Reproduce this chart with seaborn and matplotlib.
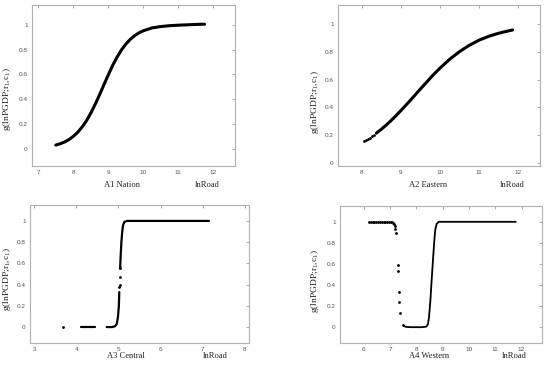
import numpy as np
import pandas as pd
import matplotlib
matplotlib.use("Agg")
import matplotlib.pyplot as plt
import seaborn as sns

# ---------------- data ----------------
# A1 Nation
a1_line_x = [7.50, 7.625, 7.75, 7.875, 8.00, 8.125, 8.25, 8.375, 8.50, 8.625, 8.75, 8.875, 9.00, 9.125,
             9.25, 9.375, 9.50, 9.625, 9.75, 9.875, 10.00, 10.25, 10.50, 10.75, 11.00, 11.25, 11.50, 11.75]
a1_line_y = [0.029, 0.040, 0.054, 0.073, 0.099, 0.132, 0.174, 0.225, 0.287, 0.358, 0.435, 0.516, 0.596, 0.672,
             0.739, 0.797, 0.844, 0.882, 0.912, 0.935, 0.952, 0.975, 0.986, 0.993, 0.997, 1.0, 1.003, 1.005]
a1_dot_x = []
a1_dot_y = []

# A2 Eastern
a2_line_x = [8.38, 8.50, 8.625, 8.75, 8.875, 9.00, 9.125, 9.25, 9.375, 9.50, 9.625, 9.75, 9.875, 10.00,
             10.25, 10.50, 10.75, 11.00, 11.25, 11.50, 11.75, 11.85]
a2_line_y = [0.213, 0.240, 0.270, 0.303, 0.338, 0.375, 0.413, 0.452, 0.492, 0.532, 0.571, 0.610, 0.648, 0.683,
             0.748, 0.803, 0.849, 0.886, 0.914, 0.936, 0.953, 0.959]
a2_dot_x = [8.07, 8.12, 8.17, 8.22, 8.27, 8.32]
a2_dot_y = [0.154, 0.162, 0.171, 0.181, 0.191, 0.201]

# A3 Central
a3_line_x = [4.12, 4.45,
             4.72, 4.85, 4.92, 4.96, 4.99, 5.01, 5.02,
             5.04, 5.05, 5.07, 5.09, 5.11, 5.14, 5.20, 7.15]
a3_line_y = [0.0, 0.0,
             0.0, 0.0, 0.008, 0.03, 0.10, 0.20, 0.33,
             0.55, 0.65, 0.80, 0.90, 0.96, 0.99, 1.0, 1.0]
a3_line_seg = [0, 0,
               1, 1, 1, 1, 1, 1, 1,
               2, 2, 2, 2, 2, 2, 2, 2]
a3_dot_x = [3.68, 5.022, 5.028, 5.032, 5.036]
a3_dot_y = [0.0, 0.38, 0.40, 0.47, 0.56]

# A4 Western
a4_line_x = [7.52, 7.60, 7.80, 8.20, 8.38, 8.44, 8.48, 8.53, 8.58, 8.62, 8.66, 8.69, 8.72, 8.77, 8.85, 11.78]
a4_line_y = [0.012, 0.003, 0.0, 0.0, 0.005, 0.03, 0.10, 0.25, 0.45, 0.60, 0.75, 0.85, 0.93, 0.98, 1.0, 1.0]
a4_dot_x = [6.20, 6.26, 6.33, 6.40, 6.47, 6.54, 6.61, 6.68, 6.75, 6.82, 6.89, 6.96, 7.02, 7.07, 7.11, 7.14, 7.17, 7.20, 7.22,
            7.28, 7.29, 7.32, 7.35, 7.37, 7.47]
a4_dot_y = [1.0, 1.0, 1.0, 1.0, 1.0, 1.0, 1.0, 1.0, 1.0, 1.0, 1.0, 1.0, 1.0, 0.998, 0.99, 0.98, 0.96, 0.93, 0.89,
            0.59, 0.53, 0.33, 0.24, 0.13, 0.025]

titles = ["A1 Nation", "A2 Eastern", "A3 Central", "A4 Western"]
x_ticks = [[7, 8, 9, 10, 11, 12], [8, 9, 10, 11, 12], [3, 4, 5, 6, 7, 8], [6, 7, 8, 9, 10, 11, 12]]
y_ticks = [0, 0.2, 0.4, 0.6, 0.8, 1]
y_tick_labels = ["0", "0.2", "0.4", "0.6", "0.8", "1"]
x_unit = "lnRoad"
y_label = r"g(lnPGDP;$r_1$,$c_1$)"

# ---------------- style ----------------
sns.set_theme(style="white")
plt.rcParams["font.family"] = ["Liberation Sans", "DejaVu Sans"]
plt.rcParams["mathtext.fontset"] = "custom"
plt.rcParams["mathtext.rm"] = "Liberation Serif"
plt.rcParams["mathtext.it"] = "Liberation Serif"

fig = plt.figure(figsize=(5.5, 3.65), dpi=100)
W, H = 550.0, 365.0

def px_axes(l, t, r, b):
    return fig.add_axes([l / W, 1 - b / H, (r - l) / W, (b - t) / H])

axes = [
    px_axes(32, 5, 235, 166),
    px_axes(338, 5, 540, 166),
    px_axes(30, 205, 249, 343),
    px_axes(340, 206, 542, 343),
]
xlims = [(6.82, 12.62), (7.4, 12.55), (2.9, 8.1), (5.09, 12.78)]
ylims = [(-0.14, 1.16), (-0.025, 1.14), (-0.15, 1.15), (-0.15, 1.15)]

panels = [
    (a1_line_x, a1_line_y, [0] * len(a1_line_x), a1_dot_x, a1_dot_y, 2.2),
    (a2_line_x, a2_line_y, [0] * len(a2_line_x), a2_dot_x, a2_dot_y, 2.2),
    (a3_line_x, a3_line_y, a3_line_seg, a3_dot_x, a3_dot_y, 1.6),
    (a4_line_x, a4_line_y, [0] * len(a4_line_x), a4_dot_x, a4_dot_y, 1.3),
]

for ax, (lx, ly, seg, dx, dy, lw), xl, yl, xt in zip(axes, panels, xlims, ylims, x_ticks):
    df = pd.DataFrame({"x": lx, "y": ly, "seg": seg})
    sns.lineplot(data=df, x="x", y="y", units="seg", estimator=None, sort=False,
                 color="black", lw=lw, ax=ax, legend=False)
    if dx:
        sns.scatterplot(x=dx, y=dy, color="black", s=4, linewidth=0, ax=ax, legend=False)
    ax.set_xlim(*xl)
    ax.set_ylim(*yl)
    ax.set_xticks(xt)
    ax.set_yticks(y_ticks)
    ax.set_yticklabels(y_tick_labels)
    ax.set_xlabel("")
    ax.set_ylabel("")
    ax.tick_params(direction="in", top=True, right=True, length=2.5, width=0.6,
                   color="#9a9a9a", labelcolor="#555555", labelsize=4.6, pad=3)
    for sp in ax.spines.values():
        sp.set_color("#b0b0b0")
        sp.set_linewidth(0.8)

serif = ["Liberation Serif", "DejaVu Serif"]
label_pos = [
    # (title x, unit x, label y, ylabel x, ylabel y) in pixels
    (122.5, 207.5, 185, 7, 99),
    (428, 512, 185, 315, 102),
    (126, 215, 356, 7, 279),
    (429, 514, 356, 315, 281),
]
for (tx, ux, ly, yx, yy), t in zip(label_pos, titles):
    fig.text(tx / W, 1 - ly / H, t, ha="center", va="center", fontsize=6.1, family=serif, color="#222222")
    fig.text(ux / W, 1 - ly / H, x_unit, ha="center", va="center", fontsize=6.1, family=serif, color="#222222")
    fig.text(yx / W, 1 - yy / H, y_label, ha="center", va="center", rotation=90,
             fontsize=6.8, family=serif, color="#222222")

fig.savefig("out.png", dpi=100)
